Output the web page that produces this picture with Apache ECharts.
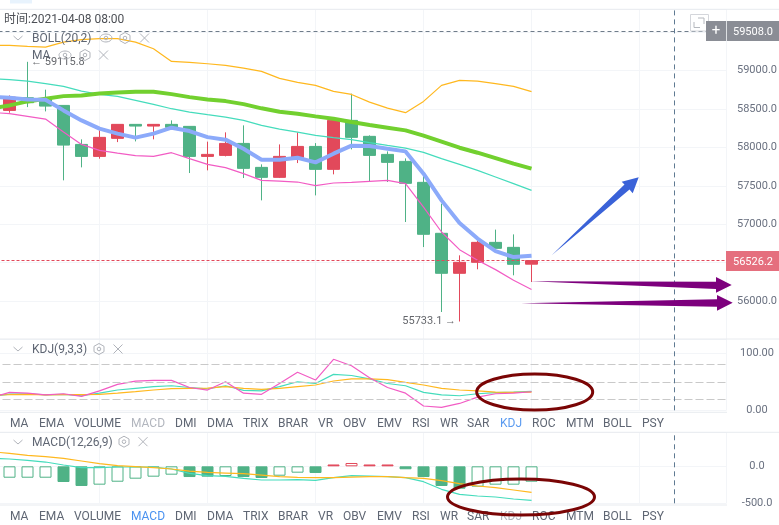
<!DOCTYPE html>
<html><head><meta charset="utf-8">
<style>html,body{margin:0;padding:0;background:#fff}#c{width:779px;height:525px}</style>
<script src="https://cdn.jsdelivr.net/npm/echarts@6/dist/echarts.min.js"></script>
</head><body><div id="c"></div>
<script>
// [open, close, low, high]
const candles = [
[58483,58656,58453,58678],[58648,58583,58526,59115.8],[58626,58539,58470,58753],[58548,58031,57572,58548],
[58040,57884,57741,58106],[57884,58132,57854,58223],[58119,58301,58070,58301],[58301,58279,58079,58301],
[58279,58301,58106,58301],[58301,58262,58262,58353],[58275,57884,57667,58275],[57884,57910,57702,58076],
[57897,58053,57884,58197],[58053,57728,57602,58288],[57741,57611,57311,57780],[57611,57884,57602,58040],
[57871,58014,57797,58197],[58014,57715,57376,58057],[57715,58353,57650,58353],[58353,58132,57975,58701],
[58145,57897,57550,58158],[57910,57806,57550,57949],[57819,57533,57029,57858],[57546,56869,56703,57637],
[56882,56361,55857,57268],[56361,56504,55733.1,56595],[56504,56764,56413,56790],[56764,56686,56686,56930],
[56699,56478,56335,56868],[56480,56526.2,56248,56526.2]];
// line arrays start one step before the first candle
const bollUpper = [59333,59329,59316,59307,59372,59404,59417,59417,59372,59286,59121,59108,59091,59069,59034,58991,58900,58848,58809,58730,58691,58591,58513,58453,58600,58809,58874,58865,58831,58796,58727];
const bollMid = [58896,58883,58865,58831,58796,58734,58691,58665,58613,58561,58505,58461,58427,58396,58353,58288,58240,58201,58158,58128,58102,58063,58027,57992,57936,57854,57780,57702,57615,57529,57442];
const bollLower = [58457,58440,58405,58370,58201,58040,57962,57927,57893,57884,57932,57854,57780,57737,57659,57572,57563,57550,57503,57537,57546,57559,57572,57529,57224,56899,56669,56530,56409,56270,56149];
const maFast = [58658,58648,58626,58622,58483,58353,58245,58180,58128,58180,58258,58214,58135,58102,57984,57841,57841,57867,57806,57919,58024,58018,57984,57949,57659,57311,57016,56813,56651,56573,56591];
const maSlow = [58509,58548,58600,58635,58669,58678,58704,58717,58727,58727,58695,58656,58626,58604,58565,58510,58466,58440,58405,58375,58331,58292,58258,58223,58154,58076,57997,57932,57862,57789,57724];
const kdjK = [24,28.5,29,27,28,25.5,30,35.6,38.5,41.5,43,40,37.4,43,35,34,41.5,50,47,63,61,55,47,43,31.5,27,25.5,29,31,32,33.3];
const kdjD = [27,27.4,28,27,27.4,27.4,28,30,32.7,35.6,38,38.5,39,41.5,38.5,36.8,38.5,41.5,44.4,51.4,55,55,53.7,49,44.4,38.5,35.6,34,32,31.5,32];
const kdjJ = [22,31.5,30,27,29,24.5,34,45.5,51,52.5,52.5,40,35.5,50,30,28,47,66.6,53,89.4,78,57,40,30,7.5,5,12,23,29,30,32.5];
const macdBars = [-154,-154,-154,-212,-266,-248,-208,-167,-140,-113,-145,-140,-131,-145,-158,-127,-86,-90,25,45,25,25,-40,-145,-266,-302,-275,-248,-248,-208];
const macdHollow = [1,1,1,0,0,1,1,1,1,1,0,0,1,0,0,1,1,0,0,1,0,0,0,0,0,0,1,1,1,1];
const dif = [108,99,81,58,18,-18,-18,-9,-9,-9,-36,-95,-127,-136,-163,-185,-185,-181,-190,-154,-127,-131,-140,-154,-208,-311,-379,-401,-415,-442,-460];
const dea = [198,175,148,130,108,72,36,9,-5,-18,-36,-64,-82,-91,-100,-118,-140,-149,-154,-154,-145,-140,-140,-154,-163,-194,-235,-266,-289,-320,-352];
const tabNames = ['MA','EMA','VOLUME','MACD','DMI','DMA','TRIX','BRAR','VR','OBV','EMV','RSI','WR','SAR','KDJ','ROC','MTM','BOLL','PSY'];
const lastPrice = 56526.2, crossPrice = 59508, crossIndex = 37.93, highPrice = 59115.8, lowPrice = 55733.1;
const kdjLevels = [80,50,20];

const tabX = [10,39,74,131,175,207,243,278,318,343,377,412,440,467,500,532,566,603,642];
const RED='#e2495b',GREEN='#4fb286',ORANGE='#ffb81f',TEAL='#45dcbc',PINK='#f25cc4',BLUE='#8caafa',LIME='#72d02f';
const LINE='#e8ebef',SPLIT='#f3f5f8',TXT='#5f6673',ICON='#b0b3ba';
const THIN=1.2;

const pt = a => a.map((v,i)=>[i,v]);
const lineSeries=(name,data,color,width,g,extra)=>Object.assign({name,type:'line',data:pt(data),xAxisIndex:g,yAxisIndex:g,
  symbol:'none',silent:true,animation:false,lineStyle:{color,width},itemStyle:{color}},extra||{});
const crossV = {xAxis:crossIndex,lineStyle:{color:'#5f7a92',type:[5,4],width:1}};
const ml=(data)=>({symbol:'none',silent:true,animation:false,label:{show:false},data});

const gridX={left:-8.5,width:735,outerBoundsMode:'none',containLabel:false};
const grids=[Object.assign({top:9.3,height:330.1},gridX),Object.assign({top:339,height:71.3},gridX),Object.assign({top:432.3,height:71},gridX)];
const xAxes=[0,1,2].map(g=>({type:'value',gridIndex:g,min:0,max:40.83,interval:6,axisLine:{show:false},axisTick:{show:false},axisLabel:{show:false},
  splitLine:{show:true,lineStyle:{color:SPLIT,width:1}}}));
const yAxis=(g,min,max,interval,digits)=>({type:'value',gridIndex:g,position:'right',min,max,interval,scale:true,
  axisLine:{show:true,lineStyle:{color:LINE}},axisTick:{show:true,length:6,lineStyle:{color:LINE}},
  splitLine:{show:true,lineStyle:{color:SPLIT,width:1}},
  axisLabel:{show:true,showMaxLabel:false,showMinLabel:g!==0,margin:30.5,align:'center',padding:[4,0,0,0],color:'#6a7180',fontSize:11,fontFamily:'Roboto',formatter:v=>v.toFixed(digits)}});

// chrome drawn as graphic elements
const el=[];
const hline=(y,x2)=>el.push({type:'line',shape:{x1:0,y1:y,x2:x2||779,y2:y},style:{stroke:LINE,lineWidth:1},silent:true,z:5});
const text=(s,x,y,o)=>el.push({type:'text',silent:true,z:(o&&o.z)||20,style:{text:s,x,y:y+0.8,fill:(o&&o.fill)||TXT,font:((o&&o.size)||12)+'px Roboto, "Noto Sans CJK SC"',textAlign:(o&&o.align)||'left',textVerticalAlign:'middle'}});
const stroke={stroke:ICON,lineWidth:1,fill:'none'};
const chevron=(y)=>el.push({type:'polyline',shape:{points:[[13.5,y-2],[18,y+2],[22.5,y-2]]},style:stroke,silent:true,z:20});
const closeIcon=(x,y)=>el.push({type:'polyline',shape:{points:[[x-4.5,y-4.5],[x+4.5,y+4.5]]},style:stroke,silent:true,z:20},{type:'polyline',shape:{points:[[x+4.5,y-4.5],[x-4.5,y+4.5]]},style:stroke,silent:true,z:20});
const hexIcon=(x,y)=>el.push({type:'polygon',shape:{points:[[x,y-5.5],[x+5,y-2.7],[x+5,y+2.7],[x,y+5.5],[x-5,y+2.7],[x-5,y-2.7]]},style:stroke,silent:true,z:20},{type:'circle',shape:{cx:x,cy:y,r:1.8},style:stroke,silent:true,z:20});
const eyeIcon=(x,y)=>el.push({type:'ellipse',shape:{cx:x,cy:y,rx:6,ry:4},style:stroke,silent:true,z:20},{type:'circle',shape:{cx:x,cy:y,r:1.8},style:stroke,silent:true,z:20});

el.push({type:'rect',shape:{x:10,y:0,width:22,height:3.5},style:{fill:'#e8f3fd'},silent:true,z:5});
hline(9.3);hline(339);hline(412.3,727);hline(432.3);hline(505,727);
text('时间:2021-04-08 08:00',4,19.5,{fill:'#4c4f55'});
chevron(38);text('BOLL(20,2)',32,38);eyeIcon(106,38);hexIcon(125,38);closeIcon(144.5,38);
text('MA',32,55);eyeIcon(65,55);hexIcon(85,55);closeIcon(103.5,55);
chevron(349);text('KDJ(9,3,3)',32,349);hexIcon(99,349);closeIcon(118,349);
chevron(442);text('MACD(12,26,9)',32,441.7);hexIcon(124,441.7);closeIcon(143,441.7);
tabNames.forEach((n,i)=>{
  text(n,tabX[i],422.7,{fill:n==='KDJ'?'#5b9bf0':n==='MACD'?'#b2b6be':TXT});
  text(n,tabX[i],515.7,{fill:n==='MACD'?'#4a92f0':n==='KDJ'?'#b2b6be':TXT});
});
// full-screen box, crosshair tag, price tag
el.push({type:'rect',shape:{x:690.5,y:14.5,width:18,height:16.5},style:{stroke:'#d4d6db',fill:'#fff',lineWidth:1},silent:true,z:21});
el.push({type:'polyline',shape:{points:[[698,18],[704,18],[704,24]]},style:{stroke:'#b5b8be',lineWidth:1,fill:'none'},silent:true,z:22});
el.push({type:'polyline',shape:{points:[[694,22],[694,27.5],[700,27.5]]},style:{stroke:'#b5b8be',lineWidth:1,fill:'none'},silent:true,z:22});
el.push({type:'rect',shape:{x:706,y:21,width:20,height:20},style:{fill:'#8a8d95'},silent:true,z:23});
el.push({type:'rect',shape:{x:726.8,y:21,width:52.2,height:20},style:{fill:'#8a8d95'},silent:true,z:23});
text('+',716,30,{fill:'#fff',size:15,align:'center',z:24});
text(crossPrice.toFixed(1),753,31,{fill:'#fff',size:11,align:'center',z:24});
el.push({type:'rect',shape:{x:726,y:251,width:53,height:20},style:{fill:'#e56f7e'},silent:true,z:23});
text(lastPrice.toFixed(1),753,261,{fill:'#fff',size:11,align:'center',z:24});
// hand-drawn annotations
const ann=(points,fill)=>el.push({type:'polygon',shape:{points},style:{fill},silent:true,z:30});
ann([[551.7,255.3],[624.5,184.5],[621.7,181.7],[638.7,177.3],[632.7,193.3],[629.5,189.5]],'#3a62d8');
ann([[530,281.3],[716,281.7],[716,277],[731.7,285],[716,292.7],[716,289]],'#7d007d');
ann([[521,303.3],[717,299.3],[717,295],[732.7,302.7],[717,310.7],[717,306.7]],'#7d007d');
el.push({type:'ellipse',shape:{cx:534.7,cy:392,rx:58,ry:18},style:{stroke:'#7a0505',lineWidth:3,fill:'none'},silent:true,z:30});
el.push({type:'ellipse',shape:{cx:521,cy:497,rx:73.5,ry:18},style:{stroke:'#7a0505',lineWidth:3,fill:'none'},silent:true,z:30});

const extremeLabels=[
  {value:[2,highPrice],label:{formatter:'← '+highPrice.toFixed(1),position:'right'}},
  {value:[26,lowPrice],label:{formatter:lowPrice.toFixed(1)+' →',position:'left'}}];

const option={animation:false,grid:grids,xAxis:xAxes,
 yAxis:[yAxis(0,55500,59800,500,1),yAxis(1,0,125,100,2),yAxis(2,-500,460,500,1)],
 series:[
  {type:'candlestick',xAxisIndex:0,yAxisIndex:0,barWidth:13,silent:true,animation:false,
   encode:{x:0,y:[1,2,3,4]},
   data:candles.map((c,i)=>[i+1,c[0],c[1],c[2],c[3]]),
   itemStyle:{color:RED,color0:GREEN,borderColor:RED,borderColor0:GREEN,borderWidth:1},
   markLine:ml([
     {yAxis:lastPrice,lineStyle:{color:RED,type:[3,2],width:1}},
     {yAxis:crossPrice,lineStyle:{color:'#6f7c8a',type:[4,3],width:1}},crossV])},
  lineSeries('upper',bollUpper,ORANGE,THIN,0),
  lineSeries('mid',bollMid,TEAL,THIN,0),
  lineSeries('lower',bollLower,PINK,THIN,0),
  lineSeries('slow',maSlow,LIME,4,0),
  lineSeries('fast',maFast,BLUE,4,0),
  {type:'scatter',xAxisIndex:0,yAxisIndex:0,symbolSize:1,silent:true,animation:false,itemStyle:{color:'rgba(0,0,0,0)'},
   label:{show:true,distance:3,color:'#3d4046',fontSize:11,fontFamily:'Roboto'},data:extremeLabels},
  lineSeries('K',kdjK,TEAL,THIN,1,{markLine:ml(kdjLevels.map(v=>({yAxis:v,lineStyle:{color:'#c9c9c9',type:[8,3],width:1}})).concat([crossV]))}),
  lineSeries('D',kdjD,ORANGE,THIN,1),
  lineSeries('J',kdjJ,PINK,THIN,1),
  {type:'bar',xAxisIndex:2,yAxisIndex:2,barWidth:12,silent:true,animation:false,
   data:macdBars.map((v,i)=>{const c=v>0?RED:GREEN;return {value:[i+1,v],itemStyle:macdHollow[i]?{color:'#fff',borderColor:c,borderWidth:1}:{color:c,borderColor:c,borderWidth:1}};}),
   markLine:ml([crossV])},
  lineSeries('DIF',dif,TEAL,THIN,2),
  lineSeries('DEA',dea,ORANGE,THIN,2)
 ],
 graphic:{elements:el}};
echarts.init(document.getElementById('c'),null,{renderer:'canvas'}).setOption(option);
</script></body></html>
